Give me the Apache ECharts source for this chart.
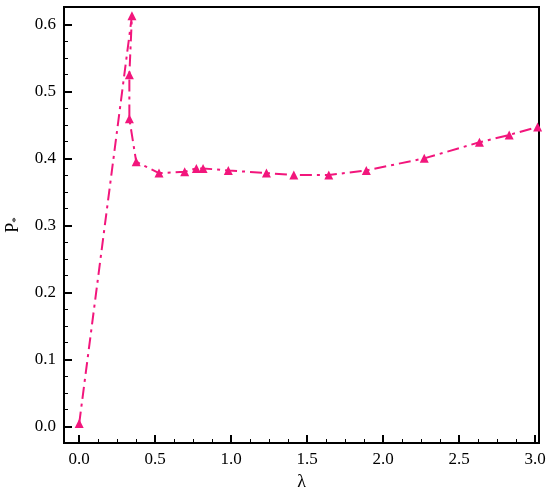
<!DOCTYPE html>
<html>
<head>
<meta charset="utf-8">
<script src="https://cdn.jsdelivr.net/npm/echarts@6/dist/echarts.min.js"></script>
<style>html,body{margin:0;padding:0;background:#fff}#c{width:550px;height:492px}</style>
</head>
<body>
<div id="c"></div>
<script>
const lambdaValues = [0.0, 0.347, 0.33, 0.33, 0.375, 0.525, 0.694, 0.771, 0.815, 0.981, 1.232, 1.412, 1.642, 1.889, 2.270, 2.633, 2.829, 3.016];
const pValues = [0.004, 0.613, 0.525, 0.459, 0.395, 0.378, 0.380, 0.385, 0.385, 0.382, 0.378, 0.375, 0.375, 0.382, 0.400, 0.424, 0.435, 0.447];
const xMajorTicks = [0.0, 0.5, 1.0, 1.5, 2.0, 2.5, 3.0];
const xMinorTicks = [0.125,0.25,0.375,0.625,0.75,0.875,1.125,1.25,1.375,1.625,1.75,1.875,2.125,2.25,2.375,2.625,2.75,2.875];
const yMajorTicks = [0.0, 0.1, 0.2, 0.3, 0.4, 0.5, 0.6];
const yMinorTicks = [0.025,0.05,0.075,0.125,0.15,0.175,0.225,0.25,0.275,0.325,0.35,0.375,0.425,0.45,0.475,0.525,0.55,0.575];

const font = 'Liberation Serif';
const xMin = -0.1, xMax = 3.025, yMin = -0.025, yMax = 0.626;
const chart = echarts.init(document.getElementById('c'));
const data = lambdaValues.map((x, i) => [x, pValues[i]]);
const axisLine = {show: true, onZero: false, lineStyle: {color: '#000', width: 2}};
const hiddenLine = {show: false, onZero: false};
chart.setOption({
  animation: false,
  grid: {left: 64, top: 7, right: 11, bottom: 49, containLabel: false, outerBoundsMode: 'none', show: true, borderColor: '#000', borderWidth: 2, backgroundColor: 'transparent'},
  xAxis: [{
    type: 'value', min: xMin, max: xMax, position: 'bottom',
    name: 'λ', nameLocation: 'middle', nameGap: 26,
    nameTextStyle: {fontFamily: font, fontSize: 18, color: '#000'},
    axisLine: axisLine, splitLine: {show: false},
    axisTick: {show: true, inside: true, length: 8, lineStyle: {color: '#000', width: 2}, customValues: xMajorTicks},
    axisLabel: {customValues: xMajorTicks, formatter: v => v.toFixed(1), fontFamily: font, fontSize: 17, color: '#000', margin: 8}
  }, {
    type: 'value', min: xMin, max: xMax, position: 'bottom',
    axisLine: hiddenLine, splitLine: {show: false},
    axisTick: {show: true, inside: true, length: 4, lineStyle: {color: '#000', width: 1}, customValues: xMinorTicks},
    axisLabel: {show: false}
  }],
  yAxis: [{
    type: 'value', min: yMin, max: yMax, position: 'left',
    name: 'P{s|*}', nameLocation: 'middle', nameGap: 42,
    nameTextStyle: {fontFamily: font, fontSize: 18, color: '#000', rich: {s: {fontFamily: font, fontSize: 11, color: '#000', verticalAlign: 'bottom', lineHeight: 18}}},
    axisLine: axisLine, splitLine: {show: false},
    axisTick: {show: true, inside: true, length: 8, lineStyle: {color: '#000', width: 2}, customValues: yMajorTicks},
    axisLabel: {customValues: yMajorTicks, formatter: v => v.toFixed(1), fontFamily: font, fontSize: 17, color: '#000', margin: 8}
  }, {
    type: 'value', min: yMin, max: yMax, position: 'left',
    axisLine: hiddenLine, splitLine: {show: false},
    axisTick: {show: true, inside: true, length: 4, lineStyle: {color: '#000', width: 1}, customValues: yMinorTicks},
    axisLabel: {show: false}
  }],
  series: [{
    type: 'line', xAxisIndex: 0, yAxisIndex: 0, data: data,
    symbol: 'triangle', symbolSize: 9,
    itemStyle: {color: '#f2167c'},
    lineStyle: {color: '#f2167c', width: 2, type: [12, 5, 3, 5]}
  }]
});
</script>
</body>
</html>
